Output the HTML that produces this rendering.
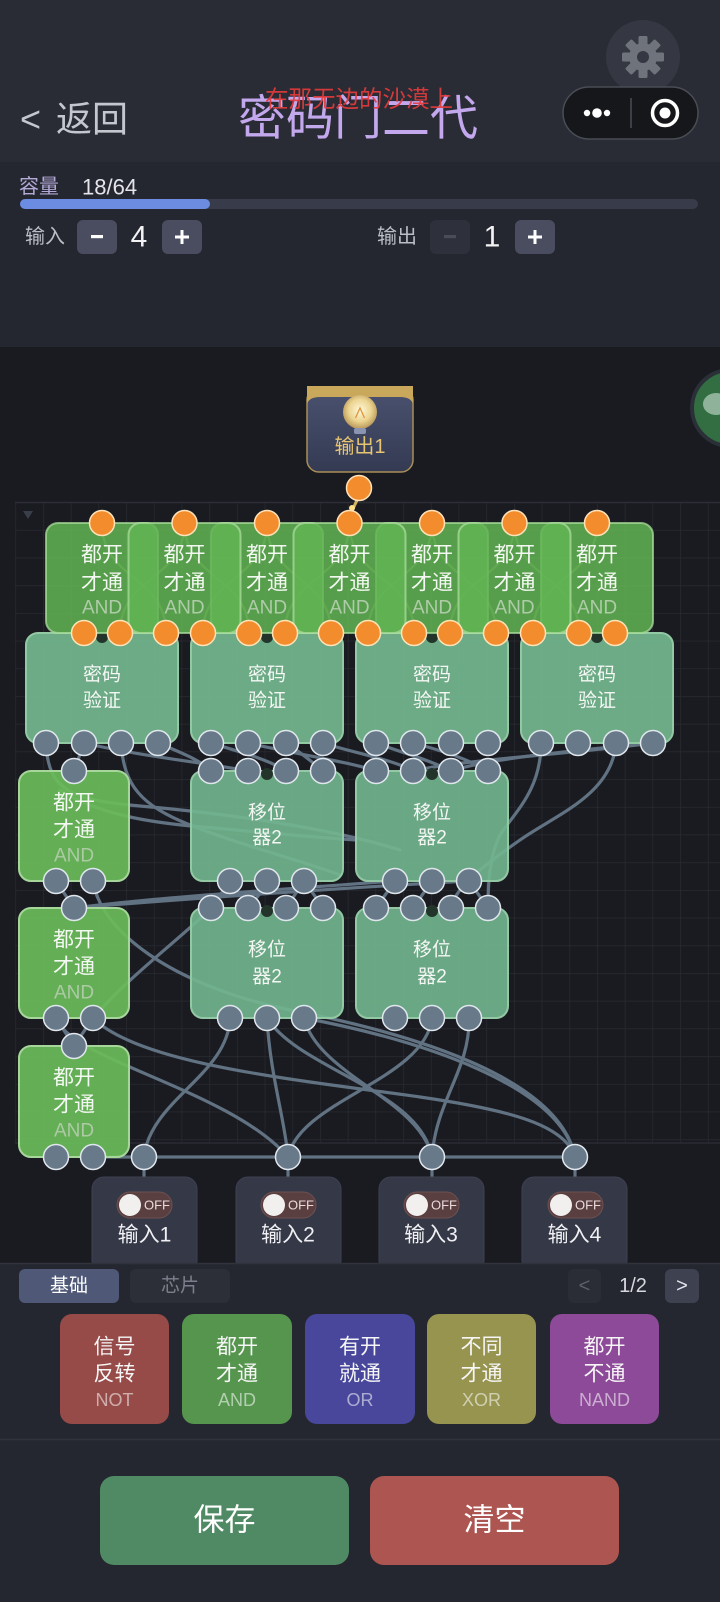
<!DOCTYPE html>
<html>
<head>
<meta charset="utf-8">
<style>
  html,body{margin:0;padding:0;background:#1a1b20;}
  body{width:720px;height:1602px;overflow:hidden;position:relative;}
  svg{position:absolute;left:0;top:0;}
  text{font-family:"Liberation Sans","Noto Sans CJK SC",sans-serif;}
</style>
</head>
<body>
<svg width="720" height="1602" viewBox="0 0 720 1602" xmlns="http://www.w3.org/2000/svg">
  <defs>
    <pattern id="grid" x="15.4" y="502.2" width="27.7" height="27.7" patternUnits="userSpaceOnUse">
      <path d="M27.7 0 L0 0 0 27.7" fill="none" stroke="#2b2d35" stroke-width="1.2"/>
    </pattern>
    <radialGradient id="bulb" cx="50%" cy="45%" r="55%">
      <stop offset="0" stop-color="#fff8dc"/>
      <stop offset="0.6" stop-color="#ecd490"/>
      <stop offset="1" stop-color="#b8975a"/>
    </radialGradient>
    <linearGradient id="outbody" x1="0" y1="0" x2="0" y2="1">
      <stop offset="0" stop-color="#4a5270"/>
      <stop offset="1" stop-color="#343a52"/>
    </linearGradient>
  </defs>

  <!-- backgrounds -->
  <rect x="0" y="0" width="720" height="162" fill="#292c35"/>
  <rect x="0" y="162" width="720" height="185" fill="#24272f"/>
  <rect x="0" y="347" width="720" height="916" fill="#1a1b20"/>
  <rect x="15" y="502" width="705" height="641" fill="url(#grid)"/>
  <line x1="15" y1="502.5" x2="720" y2="502.5" stroke="#2c2e37" stroke-width="1.5"/>
  <line x1="15" y1="1143" x2="720" y2="1143" stroke="#2c2e37" stroke-width="1.2"/>
  <polygon points="23,511 33,511 28,519" fill="#3a3e4a"/>

  <!-- header -->
  <circle cx="643" cy="57" r="37" fill="#353842"/>
  <g transform="translate(643,57)" fill="#6f737b">
    <rect x="-4.5" y="-21" width="9" height="10" rx="1.5"/>
    <rect x="-4.5" y="-21" width="9" height="10" rx="1.5" transform="rotate(45)"/>
    <rect x="-4.5" y="-21" width="9" height="10" rx="1.5" transform="rotate(90)"/>
    <rect x="-4.5" y="-21" width="9" height="10" rx="1.5" transform="rotate(135)"/>
    <rect x="-4.5" y="-21" width="9" height="10" rx="1.5" transform="rotate(180)"/>
    <rect x="-4.5" y="-21" width="9" height="10" rx="1.5" transform="rotate(225)"/>
    <rect x="-4.5" y="-21" width="9" height="10" rx="1.5" transform="rotate(270)"/>
    <rect x="-4.5" y="-21" width="9" height="10" rx="1.5" transform="rotate(315)"/>
    <circle r="14"/>
    <circle r="6" fill="#353842"/>
  </g>
  <rect x="563" y="87" width="135" height="52" rx="26" fill="#16171b" stroke="#4a4d55" stroke-width="1.5"/>
  <circle cx="587" cy="113" r="3.2" fill="#fff"/>
  <circle cx="597" cy="113" r="4.8" fill="#fff"/>
  <circle cx="607" cy="113" r="3.2" fill="#fff"/>
  <line x1="631" y1="98" x2="631" y2="128" stroke="#4a4d55" stroke-width="1.5"/>
  <circle cx="665" cy="113" r="12.5" fill="none" stroke="#fff" stroke-width="3.5"/>
  <circle cx="665" cy="113" r="5.5" fill="#fff"/>

  <text x="20" y="119" font-size="36" fill="#c5c7ce" dominant-baseline="central">&lt;</text>
  <text x="56" y="119" font-size="36" fill="#c5c7ce" dominant-baseline="central">返回</text>
  <text x="358" y="119" font-size="48" fill="#c4a8ee" text-anchor="middle" dominant-baseline="central">密码门二代</text>
  <text x="359" y="99" font-size="23.5" fill="#e23b3b" fill-opacity="0.92" text-anchor="middle" dominant-baseline="central">在那无边的沙漠上</text>

  <!-- capacity -->
  <text x="19" y="187" font-size="20" fill="#b3aad8" dominant-baseline="central">容量</text>
  <text x="82" y="187" font-size="22" fill="#e4e4ea" dominant-baseline="central">18/64</text>
  <rect x="20" y="199" width="678" height="10" rx="5" fill="#383b4a"/>
  <rect x="20" y="199" width="190" height="10" rx="5" fill="#6b8ce0"/>

  <text x="25" y="237" font-size="20" fill="#bcbec6" dominant-baseline="central">输入</text>
  <rect x="77" y="220" width="40" height="34" rx="6" fill="#4a4d5f"/>
  <rect x="91" y="235" width="12" height="3.2" fill="#fff"/>
  <text x="139" y="237" font-size="30" fill="#f2f2f4" text-anchor="middle" dominant-baseline="central">4</text>
  <rect x="162" y="220" width="40" height="34" rx="6" fill="#4a4d5f"/>
  <rect x="175" y="235.5" width="14" height="3" fill="#fff"/>
  <rect x="180.5" y="230" width="3" height="14" fill="#fff"/>

  <text x="377" y="237" font-size="20" fill="#bcbec6" dominant-baseline="central">输出</text>
  <rect x="430" y="220" width="40" height="34" rx="6" fill="#2e313b"/>
  <rect x="444" y="235" width="12" height="3.2" fill="#4a4d58"/>
  <text x="492" y="237" font-size="30" fill="#f2f2f4" text-anchor="middle" dominant-baseline="central">1</text>
  <rect x="515" y="220" width="40" height="34" rx="6" fill="#4a4d5f"/>
  <rect x="528" y="235.5" width="14" height="3" fill="#fff"/>
  <rect x="533.5" y="230" width="3" height="14" fill="#fff"/>

  <!-- floating green button -->
  <circle cx="730" cy="408" r="38" fill="#336e42" stroke="#2b2f37" stroke-width="4"/>
  <ellipse cx="716" cy="404" rx="13" ry="11" fill="#8fb39a"/>

  <!-- output node -->
  <rect x="307" y="388" width="106" height="84" rx="12" fill="url(#outbody)" stroke="#a88e58" stroke-width="1.5"/>
  <path d="M307,386 H413 V404 Q411,397 400,397 H320 Q309,397 307,404 Z" fill="#c9a85c"/>
  <circle cx="360" cy="412" r="17" fill="url(#bulb)"/>
  <rect x="354" y="428" width="12" height="6" rx="2" fill="#8a94b0"/>
  <path d="M355.5,418 L360,408 L364.5,418" fill="none" stroke="#e0953c" stroke-width="1.3"/>
  <text x="360" y="447" font-size="20" fill="#e6c472" text-anchor="middle" dominant-baseline="central">输出1</text>
  <line x1="359" y1="496" x2="350" y2="515" stroke="#f3cf6a" stroke-width="3" stroke-opacity="0.85"/>
  <circle cx="352" cy="508" r="3" fill="#ffe08a"/>

  <!-- cascade lines inside top AND row -->
  <g fill="none" stroke="#c9dc68" stroke-width="2.2" stroke-opacity="0.4">
    <path d="M102,523 C102,580 166,576 166,633"/>
    <path d="M184.5,523 C184.5,580 120,576 120,633"/>
    <path d="M184.5,523 C184.5,580 249,576 249,633"/>
    <path d="M267,523 C267,580 203,576 203,633"/>
    <path d="M267,523 C267,580 331,576 331,633"/>
    <path d="M349.5,523 C349.5,580 285,576 285,633"/>
    <path d="M349.5,523 C349.5,580 414,576 414,633"/>
    <path d="M432,523 C432,580 368,576 368,633"/>
    <path d="M432,523 C432,580 496,576 496,633"/>
    <path d="M514.5,523 C514.5,580 450,576 450,633"/>
    <path d="M514.5,523 C514.5,580 579,576 579,633"/>
    <path d="M597,523 C597,580 533,576 533,633"/>
  </g>

  <!-- wires -->
  <g fill="none" stroke="#617283" stroke-width="3.2" stroke-linecap="round">
    <path d="M84,743 L74,771"/>
    <path d="M46,743 C48,790 70,800 140,806 C230,814 330,828 400,850"/>
    <path d="M121,743 C124,785 140,805 190,825 C240,845 300,860 340,875"/>
    <path d="M60,790 C100,815 150,822 191,826 C260,832 320,838 356,840"/>
    <path d="M84,743 C140,756 200,762 248,771"/>
    <path d="M158,743 C180,752 200,760 211,771"/>
    <path d="M211,743 C240,752 270,760 286,771"/>
    <path d="M248,743 C300,755 350,762 376,771"/>
    <path d="M286,743 C300,752 310,760 323,771"/>
    <path d="M323,743 C350,752 395,760 413,771"/>
    <path d="M376,743 C400,752 430,760 451,771"/>
    <path d="M413,743 C440,750 470,760 488,771"/>
    <path d="M653,743 C580,750 490,758 451,771"/>
    <path d="M653,743 C560,755 460,760 413,771"/>
    <path d="M541,743 C541,790 515,812 500,835 C490,855 488,880 488,908"/>
    <path d="M616,743 C612,795 555,815 520,840 C480,868 455,888 451,908"/>

    <path d="M56,881 L74,908"/>
    <path d="M93,881 C100,930 170,985 290,1010 C420,1035 560,1080 575,1157"/>
    <path d="M74,908 C150,898 300,888 395,881"/>
    <path d="M74,908 C170,900 340,888 469,881"/>
    <path d="M230,881 L211,908"/>
    <path d="M267,881 C262,892 255,900 248,908"/>
    <path d="M304,881 L286,908"/>
    <path d="M304,881 C312,892 318,900 323,908"/>
    <path d="M395,881 L376,908"/>
    <path d="M432,881 L413,908"/>
    <path d="M469,881 L488,908"/>
    <path d="M211,908 C185,935 130,975 93,1018"/>

    <path d="M56,1018 L74,1046"/>
    <path d="M93,1018 L74,1046"/>
    <path d="M230,1018 C228,1075 150,1100 144,1157"/>
    <path d="M267,1018 C270,1075 285,1120 288,1157"/>
    <path d="M267,1018 C300,1070 420,1090 432,1157"/>
    <path d="M304,1018 C318,1075 420,1100 432,1157"/>
    <path d="M304,1018 C420,1040 560,1085 575,1157"/>
    <path d="M432,1018 C425,1080 300,1100 288,1157"/>
    <path d="M469,1018 C470,1070 436,1100 432,1157"/>
    <path d="M93,1018 C140,1065 300,1080 420,1097 C510,1110 565,1125 575,1157"/>
    <path d="M56,1018 C70,1060 230,1090 288,1157"/>
    <path d="M93,1157 L575,1157"/>
    <path d="M144,1157 V1180 M288,1157 V1180 M432,1157 V1180 M575,1157 V1180"/>
  </g>

  <!-- 密码验证 boxes -->
  <g fill="#73b78f" fill-opacity="0.92" stroke="#92c9a4" stroke-width="2">
    <rect x="26" y="633" width="152" height="110" rx="12"/>
    <rect x="191" y="633" width="152" height="110" rx="12"/>
    <rect x="356" y="633" width="152" height="110" rx="12"/>
    <rect x="521" y="633" width="152" height="110" rx="12"/>
  </g>
  <g fill="#23352a">
    <circle cx="102" cy="637" r="6"/><circle cx="267" cy="637" r="6"/>
    <circle cx="432" cy="637" r="6"/><circle cx="597" cy="637" r="6"/>
  </g>
  <g font-size="19" fill="#f4f7f4" text-anchor="middle" dominant-baseline="central">
    <text x="102" y="675">密码</text><text x="102" y="701">验证</text>
    <text x="267" y="675">密码</text><text x="267" y="701">验证</text>
    <text x="432" y="675">密码</text><text x="432" y="701">验证</text>
    <text x="597" y="675">密码</text><text x="597" y="701">验证</text>
  </g>

  <!-- 移位器 boxes -->
  <g fill="#73b78f" fill-opacity="0.9" stroke="#92c9a4" stroke-width="2">
    <rect x="191" y="771" width="152" height="110" rx="12"/>
    <rect x="356" y="771" width="152" height="110" rx="12"/>
    <rect x="191" y="908" width="152" height="110" rx="12"/>
    <rect x="356" y="908" width="152" height="110" rx="12"/>
  </g>
  <g fill="#23352a">
    <circle cx="267" cy="774" r="6"/><circle cx="432" cy="774" r="6"/>
    <circle cx="267" cy="911" r="6"/><circle cx="432" cy="911" r="6"/>
  </g>
  <g font-size="19" fill="#f4f7f4" text-anchor="middle" dominant-baseline="central">
    <text x="267" y="813">移位</text><text x="267" y="838">器2</text>
    <text x="432" y="813">移位</text><text x="432" y="838">器2</text>
    <text x="267" y="950">移位</text><text x="267" y="977">器2</text>
    <text x="432" y="950">移位</text><text x="432" y="977">器2</text>
  </g>

  <!-- left AND column -->
  <g fill="#6abc5a" fill-opacity="0.92" stroke="#a6d69a" stroke-width="2">
    <rect x="19" y="771" width="110" height="110" rx="12"/>
    <rect x="19" y="908" width="110" height="110" rx="12"/>
    <rect x="19" y="1046" width="110" height="111" rx="12"/>
  </g>
  <g text-anchor="middle" dominant-baseline="central">
    <text x="74" y="803" font-size="21" fill="#f4f8f2">都开</text>
    <text x="74" y="830" font-size="21" fill="#f4f8f2">才通</text>
    <text x="74" y="856" font-size="19" fill="#b9cfb3" fill-opacity="0.85">AND</text>
    <text x="74" y="940" font-size="21" fill="#f4f8f2">都开</text>
    <text x="74" y="967" font-size="21" fill="#f4f8f2">才通</text>
    <text x="74" y="993" font-size="19" fill="#b9cfb3" fill-opacity="0.85">AND</text>
    <text x="74" y="1078" font-size="21" fill="#f4f8f2">都开</text>
    <text x="74" y="1105" font-size="21" fill="#f4f8f2">才通</text>
    <text x="74" y="1131" font-size="19" fill="#b9cfb3" fill-opacity="0.85">AND</text>
  </g>

  <!-- top AND row (odd first, then even on top) -->
  <g fill="#62b554" fill-opacity="0.86" stroke="#a9dc9c" stroke-opacity="0.75" stroke-width="2">
    <rect x="46" y="523" width="112" height="110" rx="12"/>
    <rect x="211" y="523" width="112" height="110" rx="12"/>
    <rect x="376" y="523" width="112" height="110" rx="12"/>
    <rect x="541" y="523" width="112" height="110" rx="12"/>
    <rect x="128.5" y="523" width="112" height="110" rx="12"/>
    <rect x="293.5" y="523" width="112" height="110" rx="12"/>
    <rect x="458.5" y="523" width="112" height="110" rx="12"/>
  </g>
  <g text-anchor="middle" dominant-baseline="central">
    <g font-size="21" fill="#f4f8f2">
      <text x="102" y="555">都开</text><text x="102" y="583">才通</text>
      <text x="184.5" y="555">都开</text><text x="184.5" y="583">才通</text>
      <text x="267" y="555">都开</text><text x="267" y="583">才通</text>
      <text x="349.5" y="555">都开</text><text x="349.5" y="583">才通</text>
      <text x="432" y="555">都开</text><text x="432" y="583">才通</text>
      <text x="514.5" y="555">都开</text><text x="514.5" y="583">才通</text>
      <text x="597" y="555">都开</text><text x="597" y="583">才通</text>
    </g>
    <g font-size="19" fill="#bed3b8" fill-opacity="0.85">
      <text x="102" y="608">AND</text><text x="184.5" y="608">AND</text>
      <text x="267" y="608">AND</text><text x="349.5" y="608">AND</text>
      <text x="432" y="608">AND</text><text x="514.5" y="608">AND</text>
      <text x="597" y="608">AND</text>
    </g>
  </g>

  <!-- orange ports -->
  <g fill="#f28c2c" stroke="#ffe2b8" stroke-width="1.5">
    <circle cx="359" cy="488" r="12.5"/>
    <circle cx="102" cy="523" r="12.5"/><circle cx="184.5" cy="523" r="12.5"/>
    <circle cx="267" cy="523" r="12.5"/><circle cx="349.5" cy="523" r="12.5"/>
    <circle cx="432" cy="523" r="12.5"/><circle cx="514.5" cy="523" r="12.5"/>
    <circle cx="597" cy="523" r="12.5"/>
    <circle cx="84" cy="633" r="12.5"/><circle cx="120" cy="633" r="12.5"/>
    <circle cx="166" cy="633" r="12.5"/><circle cx="203" cy="633" r="12.5"/>
    <circle cx="249" cy="633" r="12.5"/><circle cx="285" cy="633" r="12.5"/>
    <circle cx="331" cy="633" r="12.5"/><circle cx="368" cy="633" r="12.5"/>
    <circle cx="414" cy="633" r="12.5"/><circle cx="450" cy="633" r="12.5"/>
    <circle cx="496" cy="633" r="12.5"/><circle cx="533" cy="633" r="12.5"/>
    <circle cx="579" cy="633" r="12.5"/><circle cx="615" cy="633" r="12.5"/>
  </g>

  <!-- gray ports -->
  <g fill="#687a8a" stroke="#dfe6ec" stroke-width="1.5">
    <circle cx="46" cy="743" r="12.5"/><circle cx="84" cy="743" r="12.5"/>
    <circle cx="121" cy="743" r="12.5"/><circle cx="158" cy="743" r="12.5"/>
    <circle cx="211" cy="743" r="12.5"/><circle cx="248" cy="743" r="12.5"/>
    <circle cx="286" cy="743" r="12.5"/><circle cx="323" cy="743" r="12.5"/>
    <circle cx="376" cy="743" r="12.5"/><circle cx="413" cy="743" r="12.5"/>
    <circle cx="451" cy="743" r="12.5"/><circle cx="488" cy="743" r="12.5"/>
    <circle cx="541" cy="743" r="12.5"/><circle cx="578" cy="743" r="12.5"/>
    <circle cx="616" cy="743" r="12.5"/><circle cx="653" cy="743" r="12.5"/>

    <circle cx="74" cy="771" r="12.5"/>
    <circle cx="211" cy="771" r="12.5"/><circle cx="248" cy="771" r="12.5"/>
    <circle cx="286" cy="771" r="12.5"/><circle cx="323" cy="771" r="12.5"/>
    <circle cx="376" cy="771" r="12.5"/><circle cx="413" cy="771" r="12.5"/>
    <circle cx="451" cy="771" r="12.5"/><circle cx="488" cy="771" r="12.5"/>

    <circle cx="56" cy="881" r="12.5"/><circle cx="93" cy="881" r="12.5"/>
    <circle cx="230" cy="881" r="12.5"/><circle cx="267" cy="881" r="12.5"/><circle cx="304" cy="881" r="12.5"/>
    <circle cx="395" cy="881" r="12.5"/><circle cx="432" cy="881" r="12.5"/><circle cx="469" cy="881" r="12.5"/>

    <circle cx="74" cy="908" r="12.5"/>
    <circle cx="211" cy="908" r="12.5"/><circle cx="248" cy="908" r="12.5"/>
    <circle cx="286" cy="908" r="12.5"/><circle cx="323" cy="908" r="12.5"/>
    <circle cx="376" cy="908" r="12.5"/><circle cx="413" cy="908" r="12.5"/>
    <circle cx="451" cy="908" r="12.5"/><circle cx="488" cy="908" r="12.5"/>

    <circle cx="56" cy="1018" r="12.5"/><circle cx="93" cy="1018" r="12.5"/>
    <circle cx="230" cy="1018" r="12.5"/><circle cx="267" cy="1018" r="12.5"/><circle cx="304" cy="1018" r="12.5"/>
    <circle cx="395" cy="1018" r="12.5"/><circle cx="432" cy="1018" r="12.5"/><circle cx="469" cy="1018" r="12.5"/>

    <circle cx="74" cy="1046" r="12.5"/>
    <circle cx="56" cy="1157" r="12.5"/><circle cx="93" cy="1157" r="12.5"/>
    <circle cx="144" cy="1157" r="12.5"/><circle cx="288" cy="1157" r="12.5"/>
    <circle cx="432" cy="1157" r="12.5"/><circle cx="575" cy="1157" r="12.5"/>
  </g>

  <!-- input nodes -->
  <g fill="#353846" stroke="#3e4152" stroke-width="1">
    <rect x="92" y="1177" width="105" height="95" rx="12"/>
    <rect x="236" y="1177" width="105" height="95" rx="12"/>
    <rect x="379" y="1177" width="105" height="95" rx="12"/>
    <rect x="522" y="1177" width="105" height="95" rx="12"/>
  </g>
  <g>
    <rect x="117" y="1192" width="55" height="26" rx="13" fill="#5a3f40" stroke="#6e5151" stroke-width="1"/>
    <circle cx="130" cy="1205" r="11" fill="#f2f0ee"/>
    <rect x="261" y="1192" width="55" height="26" rx="13" fill="#5a3f40" stroke="#6e5151" stroke-width="1"/>
    <circle cx="274" cy="1205" r="11" fill="#f2f0ee"/>
    <rect x="404" y="1192" width="55" height="26" rx="13" fill="#5a3f40" stroke="#6e5151" stroke-width="1"/>
    <circle cx="417" cy="1205" r="11" fill="#f2f0ee"/>
    <rect x="548" y="1192" width="55" height="26" rx="13" fill="#5a3f40" stroke="#6e5151" stroke-width="1"/>
    <circle cx="561" cy="1205" r="11" fill="#f2f0ee"/>
  </g>
  <g font-size="13" fill="#eadada" text-anchor="middle" dominant-baseline="central">
    <text x="157" y="1205">OFF</text><text x="301" y="1205">OFF</text>
    <text x="444" y="1205">OFF</text><text x="588" y="1205">OFF</text>
  </g>
  <g font-size="21" fill="#f0f0f4" text-anchor="middle" dominant-baseline="central">
    <text x="144.5" y="1235">输入1</text><text x="288" y="1235">输入2</text>
    <text x="431" y="1235">输入3</text><text x="574.5" y="1235">输入4</text>
  </g>

  <!-- bottom panel -->
  <rect x="0" y="1263" width="720" height="339" fill="#24272f"/>
  <line x1="0" y1="1263.5" x2="720" y2="1263.5" stroke="#30333c" stroke-width="1.5"/>
  <rect x="19" y="1269" width="100" height="34" rx="6" fill="#4f5877"/>
  <text x="69" y="1286" font-size="19" fill="#ffffff" text-anchor="middle" dominant-baseline="central">基础</text>
  <rect x="130" y="1269" width="100" height="34" rx="6" fill="#2c2f38"/>
  <text x="180" y="1286" font-size="19" fill="#7d808c" text-anchor="middle" dominant-baseline="central">芯片</text>
  <rect x="568" y="1269" width="33" height="34" rx="6" fill="#2a2d35"/>
  <text x="584.5" y="1286" font-size="20" fill="#5d606a" text-anchor="middle" dominant-baseline="central">&lt;</text>
  <text x="633" y="1286" font-size="20" fill="#d8d8de" text-anchor="middle" dominant-baseline="central">1/2</text>
  <rect x="665" y="1269" width="34" height="34" rx="6" fill="#3e4150"/>
  <text x="682" y="1286" font-size="20" fill="#e6e6ee" text-anchor="middle" dominant-baseline="central">&gt;</text>

  <rect x="60" y="1314" width="109" height="110" rx="12" fill="#964b48"/>
  <rect x="182" y="1314" width="110" height="110" rx="12" fill="#55954e"/>
  <rect x="305" y="1314" width="110" height="110" rx="12" fill="#48479c"/>
  <rect x="427" y="1314" width="109" height="110" rx="12" fill="#979450"/>
  <rect x="550" y="1314" width="109" height="110" rx="12" fill="#8d4a98"/>
  <g font-size="21" fill="#f6f6f6" text-anchor="middle" dominant-baseline="central">
    <text x="114.5" y="1347">信号</text><text x="114.5" y="1374">反转</text>
    <text x="237" y="1347">都开</text><text x="237" y="1374">才通</text>
    <text x="360" y="1347">有开</text><text x="360" y="1374">就通</text>
    <text x="481.5" y="1347">不同</text><text x="481.5" y="1374">才通</text>
    <text x="604.5" y="1347">都开</text><text x="604.5" y="1374">不通</text>
  </g>
  <g font-size="18" fill="#ffffff" fill-opacity="0.55" text-anchor="middle" dominant-baseline="central">
    <text x="114.5" y="1400">NOT</text>
    <text x="237" y="1400">AND</text>
    <text x="360" y="1400">OR</text>
    <text x="481.5" y="1400">XOR</text>
    <text x="604.5" y="1400">NAND</text>
  </g>
  <line x1="0" y1="1439.5" x2="720" y2="1439.5" stroke="#30333c" stroke-width="1.5"/>

  <rect x="100" y="1476" width="249" height="89" rx="14" fill="#508a64"/>
  <text x="224.5" y="1520" font-size="31" fill="#ffffff" text-anchor="middle" dominant-baseline="central">保存</text>
  <rect x="370" y="1476" width="249" height="89" rx="14" fill="#ad5550"/>
  <text x="494.5" y="1520" font-size="31" fill="#ffffff" text-anchor="middle" dominant-baseline="central">清空</text>
</svg>
</body>
</html>
